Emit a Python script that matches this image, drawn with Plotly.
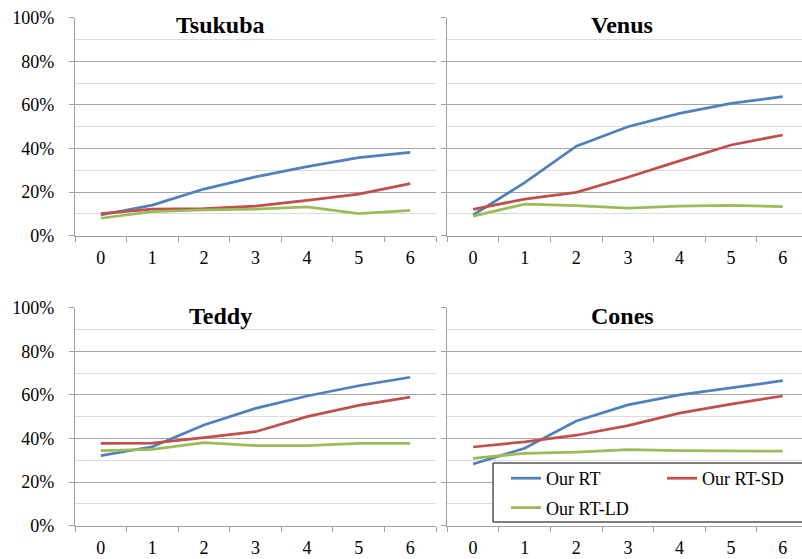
import plotly.graph_objects as go

W, H = 802, 559

categories = ["0", "1", "2", "3", "4", "5", "6"]
series_names = ["Our RT", "Our RT-SD", "Our RT-LD"]
colors = ["#4F81BD", "#C0504D", "#9BBB59"]

tsukuba_rt = [0.095, 0.140, 0.214, 0.270, 0.317, 0.358, 0.382]
tsukuba_sd = [0.101, 0.122, 0.124, 0.136, 0.162, 0.191, 0.239]
tsukuba_ld = [0.080, 0.110, 0.118, 0.122, 0.132, 0.101, 0.116]

venus_rt = [0.095, 0.243, 0.411, 0.500, 0.561, 0.607, 0.638]
venus_sd = [0.121, 0.168, 0.199, 0.268, 0.343, 0.416, 0.462]
venus_ld = [0.090, 0.145, 0.138, 0.126, 0.136, 0.139, 0.133]

teddy_rt = [0.321, 0.362, 0.462, 0.538, 0.595, 0.642, 0.681]
teddy_sd = [0.378, 0.379, 0.404, 0.431, 0.500, 0.552, 0.590]
teddy_ld = [0.344, 0.350, 0.381, 0.367, 0.367, 0.378, 0.378]

cones_rt = [0.283, 0.355, 0.480, 0.554, 0.600, 0.633, 0.665]
cones_sd = [0.361, 0.385, 0.415, 0.459, 0.516, 0.558, 0.595]
cones_ld = [0.309, 0.332, 0.338, 0.349, 0.344, 0.344, 0.342]

panels = [
    ("Tsukuba", [tsukuba_rt, tsukuba_sd, tsukuba_ld]),
    ("Venus", [venus_rt, venus_sd, venus_ld]),
    ("Teddy", [teddy_rt, teddy_sd, teddy_ld]),
    ("Cones", [cones_rt, cones_sd, cones_ld]),
]

y_ticks = [0, 0.2, 0.4, 0.6, 0.8, 1.0]
y_tick_text = ["0%", "20%", "40%", "60%", "80%", "100%"]

FONT = "Liberation Serif, Times New Roman, Tinos, DejaVu Serif, serif"

# pixel layout
x_dom_left = [75 / W, 436 / W]
x_dom_right = [447.3 / W, 1.0]
y_dom_top = [1 - 235.7 / H, 1 - 17.7 / H]
y_dom_bot = [1 - 525.7 / H, 1 - 307.7 / H]

doms = [
    (x_dom_left, y_dom_top, [-0.5, 6.5], True),
    (x_dom_right, y_dom_top, [-0.5, -0.5 + (W - 447.3) / 51.6], False),
    (x_dom_left, y_dom_bot, [-0.5, 6.5], True),
    (x_dom_right, y_dom_bot, [-0.5, -0.5 + (W - 447.3) / 51.6], False),
]
title_pos = [(220, 25), (622, 25), (220, 315.5), (622, 315.5)]
legend_of_series = ["legend", "legend2", "legend"]

fig = go.Figure()
layout = {}
for i, ((name, vals), (xd, yd, xr, showlab)) in enumerate(zip(panels, doms)):
    n = "" if i == 0 else str(i + 1)
    for j, v in enumerate(vals):
        fig.add_trace(go.Scatter(
            x=categories, y=v, mode="lines", name=series_names[j],
            line=dict(color=colors[j], width=2.75),
            xaxis="x" + n, yaxis="y" + n,
            showlegend=(i == 3), legend=legend_of_series[j],
            legendgroup="g%d" % j,
        ))
    layout["xaxis" + n] = dict(
        domain=xd, anchor="y" + n, type="category", range=xr,
        tickson="boundaries", ticks="outside", ticklen=5, tickcolor="#a0a0a0",
        showline=True, linecolor="#a0a0a0", linewidth=1.3, showgrid=False,
        tickfont=dict(family=FONT, size=18, color="black"),
        ticklabelstandoff=6, fixedrange=True, automargin=False,
    )
    layout["yaxis" + n] = dict(
        domain=yd, anchor="x" + n, range=[0, 1],
        tickvals=y_ticks, ticktext=y_tick_text, showticklabels=showlab,
        ticks="outside", ticklen=5, tickcolor="#a0a0a0",
        showline=True, linecolor="#a0a0a0", linewidth=1.3,
        showgrid=True, gridcolor="#a6a6a6", gridwidth=1, zeroline=False,
        minor=dict(dtick=0.1, tick0=0, showgrid=True, gridcolor="#dcdcdc", gridwidth=1),
        tickfont=dict(family=FONT, size=18, color="black"),
        ticklabelstandoff=11, fixedrange=True, automargin=False,
    )
    tx, ty = title_pos[i]
    fig.add_annotation(
        text="<b>%s</b>" % name, x=tx / W, y=1 - ty / H, xref="paper", yref="paper",
        xanchor="center", yanchor="middle", showarrow=False,
        font=dict(family=FONT, size=24, color="black"),
    )

# legend frame (white box with black border, running off the right edge)
fig.add_shape(
    type="rect", xref="paper", yref="paper",
    x0=493 / W, x1=1.02, y0=1 - 522 / H, y1=1 - 463 / H,
    line=dict(color="black", width=1), fillcolor="white", layer="above",
)

leg_common = dict(
    orientation="v", xanchor="left", yanchor="top", xref="paper", yref="paper",
    bgcolor="rgba(0,0,0,0)", borderwidth=0,
    font=dict(family=FONT, size=18, color="black"),
    tracegroupgap=3, itemclick=False, itemdoubleclick=False,
)

fig.update_layout(
    **layout,
    width=W, height=H,
    margin=dict(l=0, r=0, t=0, b=0, autoexpand=False),
    paper_bgcolor="white", plot_bgcolor="white",
    font=dict(family=FONT),
    showlegend=True,
    legend=dict(x=506 / W, y=1 - 460 / H, **leg_common),
    legend2=dict(x=662 / W, y=1 - 460 / H, **leg_common),
)

fig.write_html("out.html")
